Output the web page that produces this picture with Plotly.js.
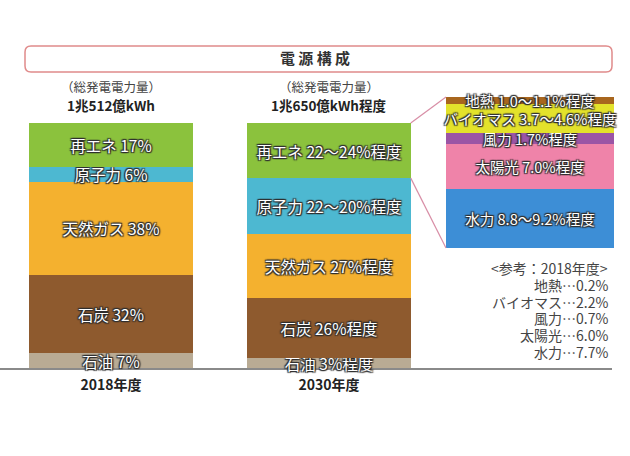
<!DOCTYPE html>
<html>
<head>
<meta charset="utf-8">
<script src="https://cdn.plot.ly/plotly-3.0.1.min.js"></script>
<style>html,body{margin:0;padding:0;background:#fff;}#chart{width:630px;height:456px;}</style>
</head>
<body>
<div id="chart"></div>
<script>
// ---- data ----
const years = ["2018年度", "2030年度"];
const totals = ["1兆512億kWh", "1兆650億kWh程度"];
const sources = ["石油", "石炭", "天然ガス", "原子力", "再エネ"];
const share2018 = [6, 32, 38, 6, 18];
const share2030 = [4, 24.5, 26, 23, 22.5];
const labels2018 = ["石油 7%", "石炭 32%", "天然ガス 38%", "原子力 6%", "再エネ 17%"];
const labels2030 = ["石油 3%程度", "石炭 26%程度", "天然ガス 27%程度", "原子力 22～20%程度", "再エネ 22～24%程度"];
const sourceColors = ["#b9ab94", "#8e5a2e", "#f4b12f", "#4db8d1", "#8bc23d"];

const reNames = ["水力", "太陽光", "風力", "バイオマス", "地熱"];
const reShare2030 = [9.2, 7.0, 1.7, 4.6, 1.1];
const reLabels2030 = ["水力 8.8～9.2%程度", "太陽光 7.0%程度", "風力 1.7%程度", "バイオマス 3.7～4.6%程度", "地熱 1.0～1.1%程度"];
const reColors = ["#3d8ed6", "#ef83a9", "#9b55a5", "#e3e22b", "#a8661e"];

const refTitle = "<参考：2018年度>";
const refNames = ["地熱", "バイオマス", "風力", "太陽光", "水力"];
const refValues = ["0.2%", "2.2%", "0.7%", "6.0%", "7.7%"];

// ---- geometry helpers ----
const W = 630, H = 456;
const px = x => x / W, py = y => 1 - y / H;
const FONT = "Noto Sans CJK JP";
const shadow = "-1px -1px 1px #2e2e2e, 1px -1px 1px #2e2e2e, -1px 1px 1px #2e2e2e, 1px 1px 1px #2e2e2e, 0 0 2px #2e2e2e";

const xDom = [0, px(612)];
const xRange = [-111 / 218, (612 - 111) / 218];
const yDom = [py(368), py(123)];
const x2Dom = [px(446), px(614)];
const y2Dom = [py(248), py(97)];
const barW = 0.75;

const traces = [];
sources.forEach((s, i) => {
  traces.push({
    type: "bar", x: [0, 1], y: [share2018[i], share2030[i]],
    text: [labels2018[i], labels2030[i]], width: barW,
    marker: {color: sourceColors[i], line: {width: 0}},
    textposition: "inside", insidetextanchor: "middle", textangle: 0, constraintext: "none", cliponaxis: false,
    textfont: {family: FONT, size: 15.5, color: "#ffffff", shadow: shadow},
    hoverinfo: "skip", xaxis: "x", yaxis: "y", name: s
  });
});
const reSum = reShare2030.reduce((a, b) => a + b, 0);
reNames.forEach((s, i) => {
  traces.push({
    type: "bar", x: [0], y: [reShare2030[i]], text: [reLabels2030[i]], width: 1,
    marker: {color: reColors[i], line: {width: 0}},
    textposition: "inside", insidetextanchor: "middle", textangle: 0, constraintext: "none", cliponaxis: false,
    textfont: {family: FONT, size: 14.5, color: "#ffffff", shadow: shadow},
    hoverinfo: "skip", xaxis: "x2", yaxis: "y2", name: s
  });
});

// connector lines from 2030 renewable segment to breakdown box
const xToPaper = v => xDom[0] + (v - xRange[0]) / (xRange[1] - xRange[0]) * (xDom[1] - xDom[0]);
const yToPaper = v => yDom[0] + v / 100 * (yDom[1] - yDom[0]);
const total2030 = share2030.reduce((a, b) => a + b, 0);
const barRight = xToPaper(1 + barW / 2);
const shapes = [
  {type: "line", xref: "paper", yref: "paper", x0: barRight, y0: yToPaper(total2030), x1: x2Dom[0], y1: y2Dom[1],
   line: {color: "#d88ea6", width: 1.2}},
  {type: "line", xref: "paper", yref: "paper", x0: barRight, y0: yToPaper(total2030 - share2030[4]), x1: x2Dom[0], y1: y2Dom[0],
   line: {color: "#d88ea6", width: 1.2}}
];
// rounded title box
(function () {
  const l = 25, r = 612, t = 46, b = 72, rad = 6;
  const P = (x, y) => px(x) + "," + py(y);
  const path = "M" + P(l + rad, t) + " L" + P(r - rad, t) + " Q" + P(r, t) + " " + P(r, t + rad) +
    " L" + P(r, b - rad) + " Q" + P(r, b) + " " + P(r - rad, b) + " L" + P(l + rad, b) +
    " Q" + P(l, b) + " " + P(l, b - rad) + " L" + P(l, t + rad) + " Q" + P(l, t) + " " + P(l + rad, t) + " Z";
  shapes.push({type: "path", xref: "paper", yref: "paper", path: path, line: {color: "#e08b8b", width: 1.5}, fillcolor: "rgba(0,0,0,0)"});
})();

const annotations = [];
years.forEach((y, i) => {
  annotations.push({xref: "x", yref: "paper", x: i, y: py(87), text: "（総発電電力量）", showarrow: false,
    font: {family: FONT, size: 12.5, color: "#444"}, yanchor: "middle"});
  annotations.push({xref: "x", yref: "paper", x: i, y: py(105), text: "<b>" + totals[i] + "</b>", showarrow: false,
    font: {family: FONT, size: 13.5, color: "#222"}, yanchor: "middle"});
});
const refLines = [refTitle.replace(/</g, "&lt;").replace(/>/g, "&gt;")].concat(refNames.map((n, i) => n + "…" + refValues[i]));
refLines.forEach((t, i) => {
  annotations.push({xref: "paper", yref: "paper", x: px(610), y: py(268 + i * 16.8), text: t, showarrow: false,
    xanchor: "right", yanchor: "middle", align: "right", font: {family: FONT, size: 14, color: "#444"}});
});

const layout = {
  width: W, height: H, margin: {l: 0, r: 0, t: 0, b: 0},
  paper_bgcolor: "#fff", plot_bgcolor: "rgba(0,0,0,0)",
  barmode: "stack", bargap: 0, showlegend: false,
  title: {text: "<b>電 源 構 成</b>", x: 0.5, xref: "paper", y: py(59), yref: "paper", yanchor: "middle",
    font: {family: FONT, size: 15, color: "#333"}},
  xaxis: {domain: xDom, range: xRange, showgrid: false, zeroline: false, showline: true, linecolor: "#8a8a8a", linewidth: 1.5,
    layer: "below traces",
    tickvals: [0, 1], ticktext: years.map(y => "<b>" + y + "</b>"), ticks: "", ticklabelstandoff: 4,
    tickfont: {family: FONT, size: 14, color: "#222"}, fixedrange: true, anchor: "y"},
  yaxis: {domain: yDom, range: [0, 100], visible: false, fixedrange: true, anchor: "x"},
  xaxis2: {domain: x2Dom, range: [-0.5, 0.5], visible: false, anchor: "y2", fixedrange: true},
  yaxis2: {domain: y2Dom, range: [0, reSum], visible: false, anchor: "x2", fixedrange: true},
  shapes: shapes, annotations: annotations
};
Plotly.newPlot("chart", traces, layout, {staticPlot: true});
</script>
</body>
</html>
